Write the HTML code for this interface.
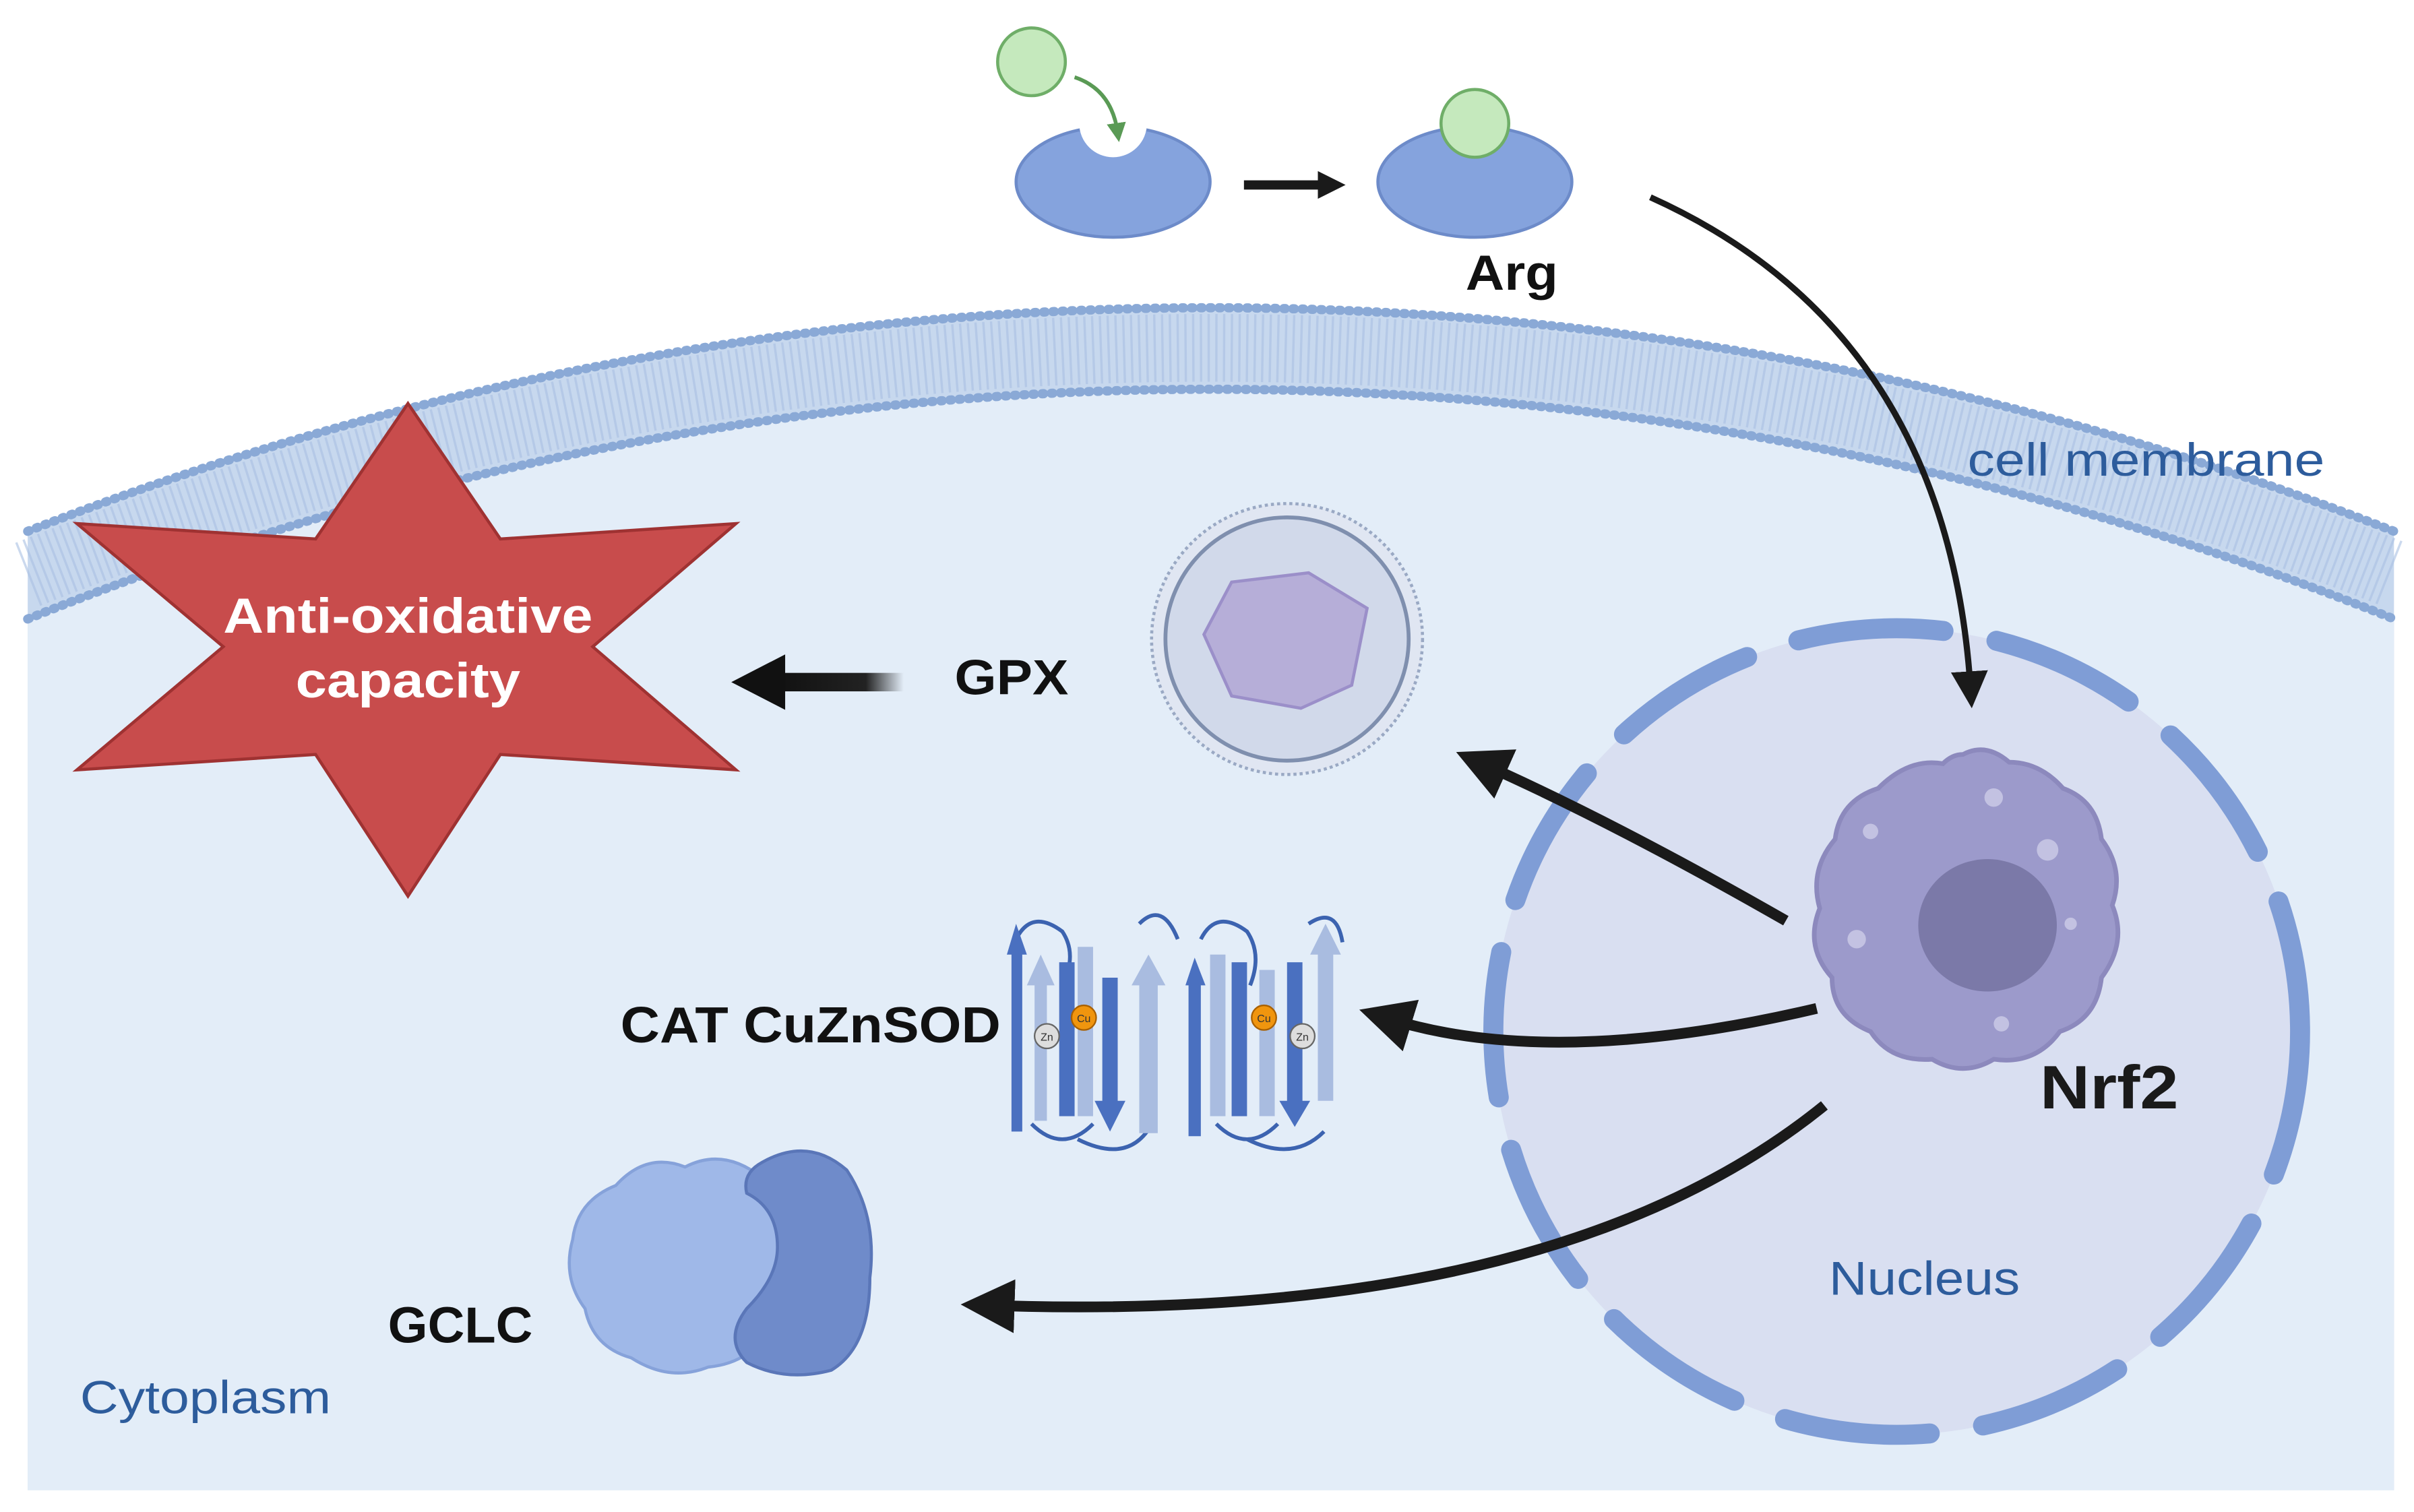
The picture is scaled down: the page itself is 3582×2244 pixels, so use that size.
<!DOCTYPE html>
<html><head><meta charset="utf-8"><style>
html,body{margin:0;padding:0;background:#fff;width:3582px;height:2244px;overflow:hidden;}
svg{display:block;overflow:hidden;}
text{font-family:"Liberation Sans",sans-serif;}
</style></head><body>
<svg width="3582" height="2244" viewBox="0 0 1568 982" xmlns="http://www.w3.org/2000/svg">
<defs>
<linearGradient id="fade" x1="0" x2="1" y1="0" y2="0"><stop offset="0" stop-color="#111"/><stop offset="0.7" stop-color="#222"/><stop offset="1" stop-color="#222" stop-opacity="0"/></linearGradient>
<marker id="ah" viewBox="0 0 10 10" refX="5" refY="5" markerWidth="6" markerHeight="6" orient="auto"><path d="M0,0 L10,5 L0,10 Z" fill="#1a1a1a"/></marker>
<marker id="ah2" viewBox="0 0 10 10" refX="4" refY="5" markerWidth="5" markerHeight="5" orient="auto"><path d="M0,0 L10,5 L0,10 Z" fill="#1a1a1a"/></marker>
<marker id="ah3" viewBox="0 0 10 10" refX="5" refY="5" markerWidth="3" markerHeight="3" orient="auto"><path d="M0,0 L10,5 L0,10 Z" fill="#1a1a1a"/></marker>
<marker id="gh" viewBox="0 0 10 10" refX="5" refY="5" markerWidth="5" markerHeight="5" orient="auto"><path d="M0,0 L10,5 L0,10 Z" fill="#5a9a55"/></marker>
</defs>
<path d="M18,968 L18,345 A2106,2106 0 0 1 1555,345 L1555,968 Z" fill="#c7d8ee"/>
<path d="M18,345 A2106,2106 0 0 1 1555,345" fill="none" stroke="#8aa9d6" stroke-width="6" stroke-dasharray="1 5" stroke-linecap="round"/>
<path d="M18,373 A2080,2080 0 0 1 1555,373" fill="none" stroke="#a9c0e2" stroke-width="44" stroke-dasharray="1.5 3.5" opacity="0.6"/>
<path d="M18,968 L18,402 A2053,2053 0 0 1 1555,402 L1555,968 Z" fill="#e3edf8"/>
<path d="M18,402 A2053,2053 0 0 1 1555,402" fill="none" stroke="#8aa9d6" stroke-width="6" stroke-dasharray="1 5" stroke-linecap="round"/>

<circle cx="1232" cy="670" r="262" fill="#d9dff1" stroke="#7f9dd6" stroke-width="13" stroke-dasharray="95 35" stroke-linecap="round"/>

<path d="M1275,490 Q1290,482 1305,495 Q1325,495 1340,512 Q1362,520 1365,545 Q1380,565 1372,588 Q1382,612 1365,635 Q1362,662 1338,670 Q1322,692 1295,688 Q1275,700 1255,688 Q1228,690 1215,670 Q1190,660 1190,635 Q1172,615 1182,590 Q1175,565 1192,545 Q1195,520 1220,512 Q1240,492 1262,496 Q1268,490 1275,490 Z" fill="#9c9acb" stroke="#8c89bd" stroke-width="3"/>
<ellipse cx="1291" cy="601" rx="45" ry="43" fill="#7b79a8"/>
<circle cx="1295" cy="518" r="6" fill="#c3c2e2"/><circle cx="1330" cy="552" r="7" fill="#c3c2e2"/><circle cx="1215" cy="540" r="5" fill="#c3c2e2"/><circle cx="1206" cy="610" r="6" fill="#c3c2e2"/><circle cx="1300" cy="665" r="5" fill="#c3c2e2"/><circle cx="1345" cy="600" r="4" fill="#c3c2e2"/>

<circle cx="836" cy="415" r="88" fill="#e0e6f2" stroke="#9aa9c4" stroke-width="2" stroke-dasharray="2 2"/>
<circle cx="836" cy="415" r="79" fill="#d1d9ea" stroke="#7f8fae" stroke-width="2.5"/>
<path d="M800,378 L850,372 L888,395 L878,445 L845,460 L800,452 L782,412 Z" fill="#b6aed8" stroke="#9b8fc9" stroke-width="2"/>

<polygon points="265,262 325,350 478,340 385,420 478,500 325,490 265,582 205,490 50,500 145,420 50,340 205,350" fill="#c84c4c" stroke="#9f3232" stroke-width="2"/>
<text x="145" y="411" textLength="240" lengthAdjust="spacingAndGlyphs" font-size="32" font-weight="bold" fill="#fff">Anti-oxidative</text>
<text x="192" y="453" textLength="146" lengthAdjust="spacingAndGlyphs" font-size="32" font-weight="bold" fill="#fff">capacity</text>

<rect x="505" y="437" width="82" height="12" fill="url(#fade)"/>
<polygon points="475,443 510,425 510,461" fill="#111"/>
<text x="620" y="451" textLength="74" lengthAdjust="spacingAndGlyphs" font-size="32" font-weight="bold" fill="#111">GPX</text>

<ellipse cx="723" cy="118" rx="63" ry="36" fill="#85a3dd" stroke="#6d8bc9" stroke-width="2"/>
<circle cx="723" cy="80" r="22" fill="#fff"/>
<circle cx="670" cy="40" r="22" fill="#c5e9bd" stroke="#6fae68" stroke-width="2"/>
<path d="M698,50 Q722,58 726,86" fill="none" stroke="#5a9a55" stroke-width="2.5" marker-end="url(#gh)"/>
<line x1="808" y1="120" x2="865" y2="120" stroke="#1a1a1a" stroke-width="6" marker-end="url(#ah3)"/>
<ellipse cx="958" cy="118" rx="63" ry="36" fill="#85a3dd" stroke="#6d8bc9" stroke-width="2"/>
<circle cx="958" cy="80" r="22" fill="#c5e9bd" stroke="#6fae68" stroke-width="2"/>
<text x="952" y="188" textLength="60" lengthAdjust="spacingAndGlyphs" font-size="32" font-weight="bold" fill="#111">Arg</text>

<path d="M1072,128 Q1265,215 1280,448" fill="none" stroke="#1a1a1a" stroke-width="4" marker-end="url(#ah)"/>
<path d="M1160,598 Q1050,535 965,497" fill="none" stroke="#1a1a1a" stroke-width="7" marker-end="url(#ah2)"/>
<path d="M1180,655 Q1010,695 903,662" fill="none" stroke="#1a1a1a" stroke-width="7" marker-end="url(#ah2)"/>
<path d="M1185,718 Q1010,860 645,848" fill="none" stroke="#1a1a1a" stroke-width="7" marker-end="url(#ah2)"/>

<g stroke="#3c63b0" stroke-width="2.5" fill="none">
  <path d="M660,610 Q670,590 690,605 Q700,620 690,640 M670,730 Q690,750 710,730 M740,600 Q755,585 765,610 M700,740 Q730,755 745,735"/>
  <path d="M780,610 Q790,590 810,605 Q820,620 812,640 M790,730 Q810,750 830,730 M850,600 Q868,588 872,612 M810,740 Q840,755 860,735"/>
</g>
<g fill="#4a70c0">
  <polygon points="654,620 660,600 667,620 664,620 664,735 657,735 657,620"/>
  <rect x="688" y="625" width="10" height="100"/>
  <polygon points="716,635 716,715 711,715 721,735 731,715 726,715 726,635"/>
  <polygon points="770,640 776,622 783,640 780,640 780,738 772,738 772,640"/>
  <rect x="800" y="625" width="10" height="100"/>
  <polygon points="836,625 836,715 831,715 841,732 851,715 846,715 846,625"/>
</g>
<g fill="#a9bce0">
  <polygon points="672,640 672,728 680,728 680,640 685,640 676,620 667,640"/>
  <rect x="700" y="615" width="10" height="110"/>
  <polygon points="740,640 740,736 752,736 752,640 757,640 746,620 735,640"/>
  <rect x="786" y="620" width="10" height="105"/>
  <polygon points="818,630 818,725 828,725 828,630"/>
  <polygon points="856,620 856,715 866,715 866,620 871,620 861,600 851,620"/>
</g>
<circle cx="680" cy="673" r="8" fill="#ddd" stroke="#666" stroke-width="1"/><text x="680" y="676" font-size="7" text-anchor="middle" fill="#333">Zn</text>
<circle cx="704" cy="661" r="8" fill="#f0950e" stroke="#a86000" stroke-width="1"/><text x="704" y="664" font-size="7" text-anchor="middle" fill="#333">Cu</text>
<circle cx="821" cy="661" r="8" fill="#f0950e" stroke="#a86000" stroke-width="1"/><text x="821" y="664" font-size="7" text-anchor="middle" fill="#333">Cu</text>
<circle cx="846" cy="673" r="8" fill="#ddd" stroke="#666" stroke-width="1"/><text x="846" y="676" font-size="7" text-anchor="middle" fill="#333">Zn</text>
<text x="403" y="677" textLength="247" lengthAdjust="spacingAndGlyphs" font-size="33" font-weight="bold" fill="#111">CAT CuZnSOD</text>

<path d="M400,770 Q420,748 445,758 Q470,745 495,765 Q515,780 510,810 Q520,840 500,860 Q490,885 460,888 Q435,898 410,882 Q385,875 380,850 Q365,830 372,805 Q375,780 400,770 Z" fill="#9fb8e8" stroke="#86a2da" stroke-width="2"/>
<path d="M495,755 Q525,738 550,760 Q570,790 565,830 Q565,875 540,890 Q510,898 485,885 Q470,870 485,850 Q505,830 505,810 Q505,785 485,775 Q482,762 495,755 Z" fill="#6f8bca" stroke="#5a76b8" stroke-width="2"/>
<text x="252" y="872" textLength="94" lengthAdjust="spacingAndGlyphs" font-size="33" font-weight="bold" fill="#111">GCLC</text>

<text x="1325" y="720" textLength="90" lengthAdjust="spacingAndGlyphs" font-size="40" font-weight="bold" fill="#1a1a1a">Nrf2</text>
<text x="1188" y="841" textLength="124" lengthAdjust="spacingAndGlyphs" font-size="31" fill="#2d5c9c">Nucleus</text>
<text x="1278" y="309" textLength="232" lengthAdjust="spacingAndGlyphs" font-size="30" fill="#2d5c9c">cell membrane</text>
<text x="52" y="918" textLength="163" lengthAdjust="spacingAndGlyphs" font-size="30" fill="#2d5c9c">Cytoplasm</text>
</svg>
</body></html>
